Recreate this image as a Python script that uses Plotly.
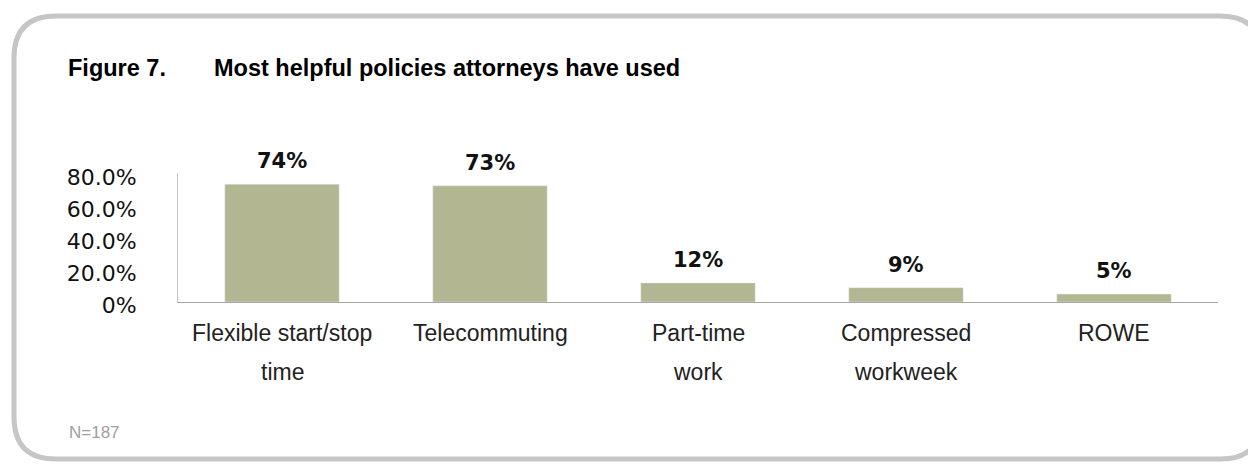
import plotly.graph_objects as go

W, H = 1248, 464

categories = ["Flexible start/stop<br>time", "Telecommuting", "Part-time<br>work",
              "Compressed<br>workweek", "ROWE"]
values = [0.74, 0.73, 0.12, 0.09, 0.05]
value_labels = ["74%", "73%", "12%", "9%", "5%"]
y_ticks = [0, 0.2, 0.4, 0.6, 0.8]
y_tick_labels = ["0%", "20.0%", "40.0%", "60.0%", "80.0%"]
title_num = "Figure 7."
title_text = "Most helpful policies attorneys have used"
note = "N=187"

BAR = "#b3b791"
SANS = "Liberation Sans, Arial, sans-serif"
DEJAVU = "DejaVu Sans, sans-serif"

# plot area in pixels
L, R, T, B = 178, 1218, 173, 302


def px_to_paper(x, y):
    return (x - L) / (R - L), (B - y) / (B - T)


def rounded_rect(x0, y0, x1, y1, r):
    pts = [
        ("M", [(x0 + r, y0)]),
        ("L", [(x1 - r, y0)]),
        ("Q", [(x1, y0), (x1, y0 + r)]),
        ("L", [(x1, y1 - r)]),
        ("Q", [(x1, y1), (x1 - r, y1)]),
        ("L", [(x0 + r, y1)]),
        ("Q", [(x0, y1), (x0, y1 - r)]),
        ("L", [(x0, y0 + r)]),
        ("Q", [(x0, y0), (x0 + r, y0)]),
    ]
    out = ""
    for cmd, ps in pts:
        out += cmd + " ".join(
            "%.5f,%.5f" % px_to_paper(px, py) for px, py in ps) + " "
    return out + "Z"


fig = go.Figure()
fig.add_trace(go.Bar(x=list(range(len(categories))), y=values, marker_color=BAR,
                     width=0.55, hoverinfo="skip"))

annotations = []
for i, (v, t) in enumerate(zip(values, value_labels)):
    annotations.append(dict(x=i, y=v, xref="x", yref="y", text="<b>%s</b>" % t,
                            showarrow=False, yanchor="bottom", yshift=9,
                            font=dict(family=DEJAVU, size=21, color="#111111")))
for i, cat in enumerate(categories):
    for j, line in enumerate(cat.split("<br>")):
        annotations.append(dict(x=i, y=0, xref="x", yref="paper", text=line,
                                showarrow=False, yanchor="middle",
                                yshift=-(31 + 39 * j),
                                font=dict(family=SANS, size=23, color="#222222")))

tx, ty = px_to_paper(66, 68)
annotations.append(dict(x=tx, y=ty, xref="paper", yref="paper", text="<b>%s</b>" % title_num,
                        showarrow=False, xanchor="left", yanchor="middle",
                        font=dict(family=SANS, size=23.5, color="#000000")))
tx2, _ = px_to_paper(212, 68)
annotations.append(dict(x=tx2, y=ty, xref="paper", yref="paper", text="<b>%s</b>" % title_text,
                        showarrow=False, xanchor="left", yanchor="middle",
                        font=dict(family=SANS, size=23.5, color="#000000")))
nx, ny = px_to_paper(67, 432)
annotations.append(dict(x=nx, y=ny, xref="paper", yref="paper", text=note,
                        showarrow=False, xanchor="left", yanchor="middle",
                        font=dict(family=SANS, size=17, color="#a0a0a0")))

fig.update_layout(
    width=W, height=H,
    margin=dict(l=L, r=W - R, t=T, b=H - B),
    paper_bgcolor="white", plot_bgcolor="white",
    showlegend=False,
    annotations=annotations,
    shapes=[dict(type="path", xref="paper", yref="paper",
                 path=rounded_rect(14, 16, 1262, 459, 42),
                 line=dict(color="#c6c6c6", width=5), layer="below")],
    xaxis=dict(range=[-0.5, 4.5], showticklabels=False, showgrid=False, zeroline=False,
               showline=True, linecolor="#a6a6a6", linewidth=1, ticks=""),
    yaxis=dict(range=[0, 0.81], tickvals=y_ticks, ticktext=y_tick_labels,
               showgrid=False, zeroline=False, showline=True, linecolor="#c8c8c8",
               linewidth=1, ticks="", ticklabelstandoff=36, ticklabelshift=3,
               tickfont=dict(family=DEJAVU, size=22, color="#111111")),
)

# page body has an 8px default margin; drop it so the figure sits at 0,0
fig.write_html("out.html", config={"displayModeBar": False},
               post_script="document.body.style.margin='0';")
